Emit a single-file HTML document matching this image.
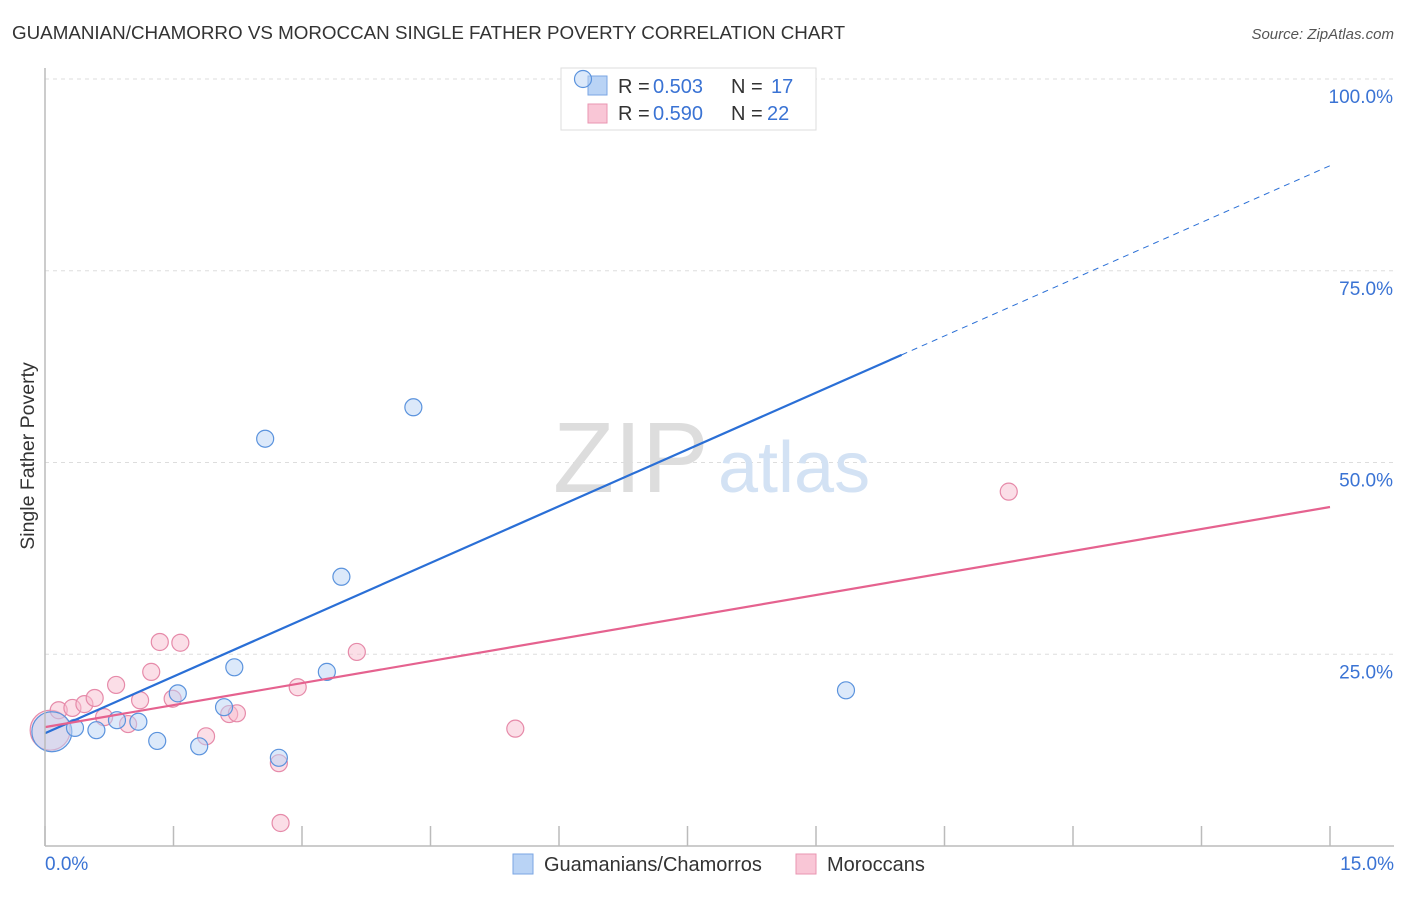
<!DOCTYPE html>
<html><head><meta charset="utf-8"><style>
body{margin:0;background:#fff;font-family:"Liberation Sans",sans-serif;}
svg text{font-family:"Liberation Sans",sans-serif;}
</style></head><body>
<svg id="c" width="1406" height="892">
<text x="12" y="39" font-size="18.8" fill="#333">GUAMANIAN/CHAMORRO VS MOROCCAN SINGLE FATHER POVERTY CORRELATION CHART</text>
<text x="1394" y="39" font-size="15" fill="#555" font-style="italic" text-anchor="end">Source: ZipAtlas.com</text>
<text x="0" y="0" transform="translate(34,456) rotate(-90)" font-size="19.5" fill="#333" text-anchor="middle">Single Father Poverty</text>
<g id="grid"></g>
<text x="553" y="492" font-size="100" fill="#ddd" font-family="Liberation Serif">ZIP</text>
<text x="718" y="492" font-size="72" fill="#d3e2f4">atlas</text>
<g>
<rect x="561" y="68" width="255" height="62" fill="#fff" stroke="#ddd"/>
<rect x="588" y="76" width="19" height="19" fill="#b9d3f5" stroke="#7aa6e3"/>
<rect x="588" y="104" width="19" height="19" fill="#f9c6d6" stroke="#e995b1"/>
<text x="618" y="93" font-size="20" fill="#333">R =</text>
<text x="653" y="93" font-size="20" fill="#3a73d4">0.503</text>
<text x="731" y="93" font-size="20" fill="#333">N =</text>
<text x="771" y="93" font-size="20" fill="#3a73d4">17</text>
<text x="618" y="120" font-size="20" fill="#333">R =</text>
<text x="653" y="120" font-size="20" fill="#3a73d4">0.590</text>
<text x="731" y="120" font-size="20" fill="#333">N =</text>
<text x="767" y="120" font-size="20" fill="#3a73d4">22</text>
</g>
<g id="pts"></g>
<g id="lines"></g>
<line x1="45" y1="68" x2="45" y2="846" stroke="#bbb" stroke-width="1.5"/>
<line x1="45" y1="846" x2="1394" y2="846" stroke="#bbb" stroke-width="1.5"/>
<g id="ticks"></g>
<text x="45" y="870" font-size="19" fill="#3a73d4">0.0%</text>
<text x="1394" y="870" font-size="19" fill="#3a73d4" text-anchor="end">15.0%</text>
<g>
<rect x="513" y="854" width="20" height="20" fill="#b9d3f5" stroke="#7aa6e3"/>
<text x="544" y="871" font-size="20" fill="#333">Guamanians/Chamorros</text>
<rect x="796" y="854" width="20" height="20" fill="#f9c6d6" stroke="#e995b1"/>
<text x="827" y="871" font-size="20" fill="#333">Moroccans</text>
</g>
</svg>
<script>
const yTicks=[25,50,75,100];
const yTickLabels=["25.0%","50.0%","75.0%","100.0%"];
const xTicks=[0,1.5,3,4.5,6,7.5,9,10.5,12,13.5,15];
const blueX=[0.08,0.35,0.60,0.84,1.09,1.31,1.55,1.80,2.09,2.21,2.57,2.73,3.29,3.46,4.30,6.28,9.35];
const blueY=[14.9,15.4,15.1,16.4,16.2,13.7,19.9,13.0,18.1,23.3,53.1,11.5,22.7,35.1,57.2,100,20.3];
const pinkX=[0.06,0.16,0.32,0.46,0.58,0.69,0.83,0.97,1.11,1.24,1.34,1.58,1.49,1.88,2.15,2.24,2.73,2.75,2.95,3.64,5.49,11.25];
const pinkY=[15.1,17.7,18.0,18.5,19.3,16.8,21.0,15.9,19.0,22.7,26.6,26.5,19.2,14.3,17.2,17.3,10.8,3.0,20.7,25.3,15.3,46.2];
const blueTrend=[14.7,88.7];
const pinkTrend=[15.5,44.2];
const blueSolidEnd=10.0;
const NS="http://www.w3.org/2000/svg";
const X=v=>45+v*(1285/15);
const Y=v=>846-v*7.67;
function mk(t,a,p){const e=document.createElementNS(NS,t);for(const k in a)e.setAttribute(k,a[k]);p.appendChild(e);return e;}
const grid=document.getElementById('grid');
yTicks.forEach((t,i)=>{
 const l=mk('line',{x1:45,x2:1394,y1:Y(t),y2:Y(t),stroke:'#ddd','stroke-dasharray':'4,4'},grid);
 
 
 const tx=mk('text',{x:1393,y:Y(t)+24,'font-size':19,fill:'#3a73d4','text-anchor':'end'},grid);
 tx.textContent=yTickLabels[i];
 
 
});
const ticks=document.getElementById('ticks');
xTicks.forEach(t=>{
 const l=mk('line',{x1:X(t),x2:X(t),y1:826,y2:846,stroke:'#bbb','stroke-width':1.5},ticks);
 
 
});
const pts=document.getElementById('pts');
function dots(xs,ys,fill,stroke,name){
 xs.forEach((x,i)=>{
  const r=(x<0.1)?20:8.5;
  const c=mk('circle',{cx:X(x),cy:Y(ys[i]),r:r,fill:fill,'fill-opacity':0.5,stroke:stroke,'stroke-width':1.2},pts);
  
  
 });
}
dots(pinkX,pinkY,'#f7bdd0','#e68aa9','moroccan-point');
dots(blueX,blueY,'#b9d3f5','#5b93dd','guamanian-point');
const lines=document.getElementById('lines');
const bm=(blueTrend[1]-blueTrend[0])/15;
let l1=mk('line',{x1:X(0),y1:Y(blueTrend[0]),x2:X(blueSolidEnd),y2:Y(blueTrend[0]+bm*blueSolidEnd),stroke:'#2a6fd6','stroke-width':2.2},lines);


let l2=mk('line',{x1:X(blueSolidEnd),y1:Y(blueTrend[0]+bm*blueSolidEnd),x2:X(15),y2:Y(blueTrend[1]),stroke:'#2a6fd6','stroke-width':1,'stroke-dasharray':'6,5'},lines);


let l3=mk('line',{x1:X(0),y1:Y(pinkTrend[0]),x2:X(15),y2:Y(pinkTrend[1]),stroke:'#e5628f','stroke-width':2.2},lines);


</script>
</body></html>
